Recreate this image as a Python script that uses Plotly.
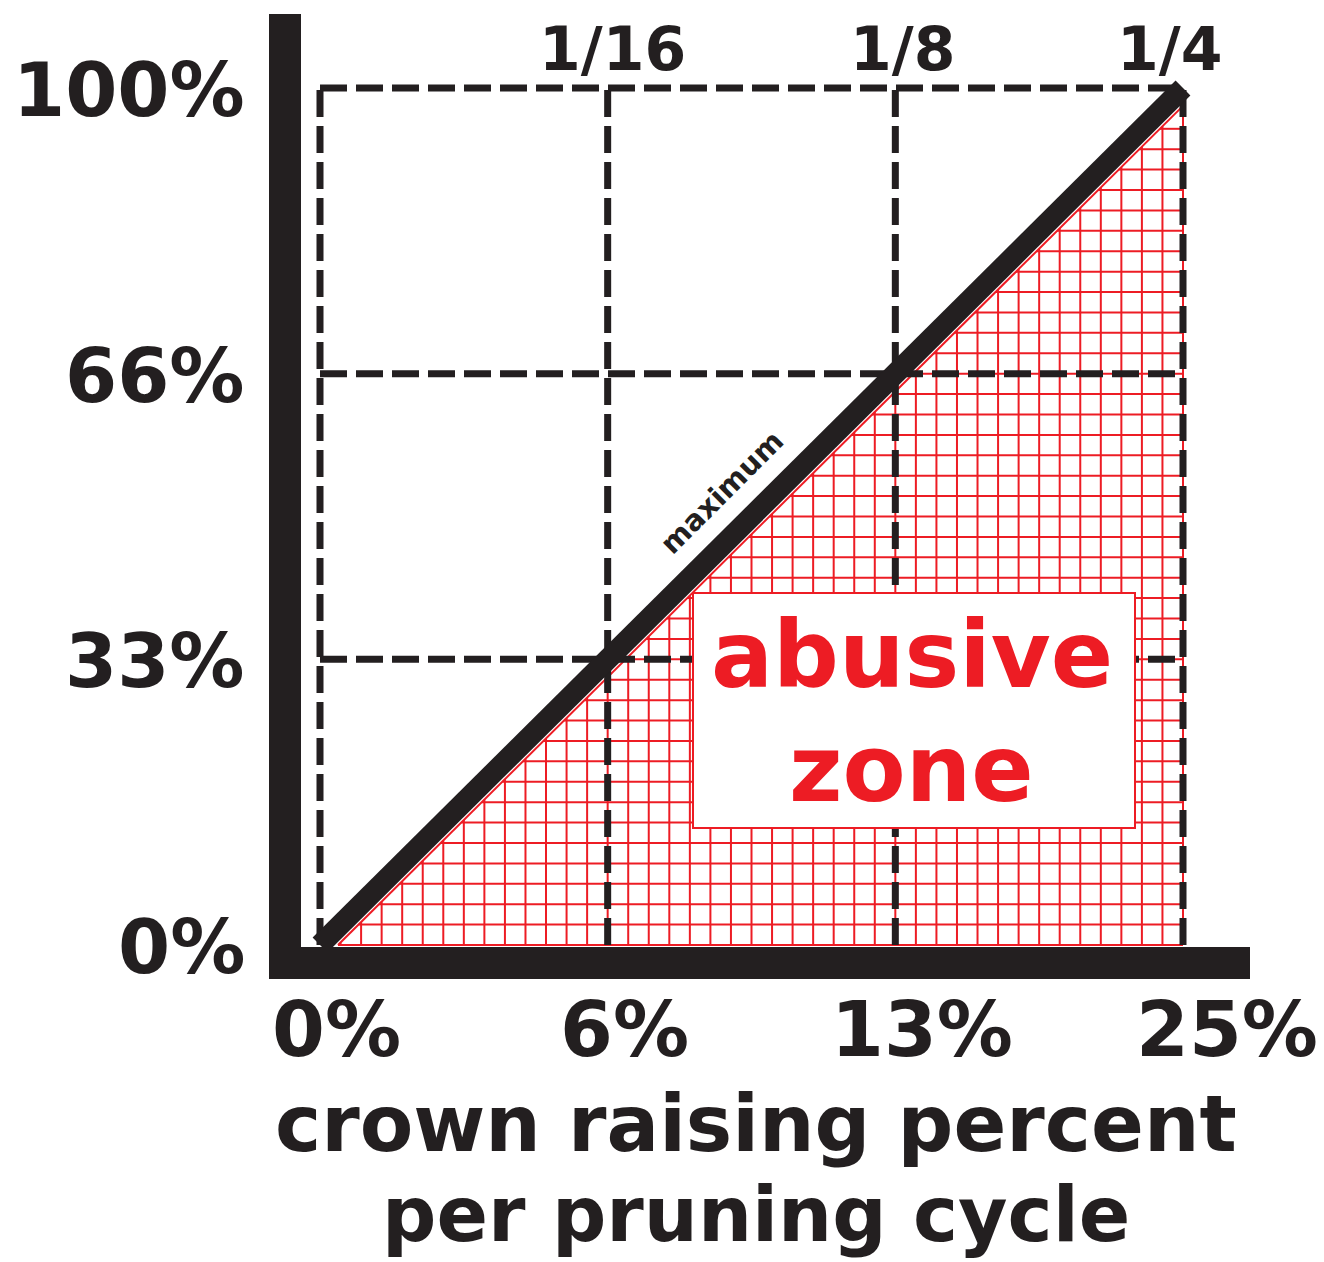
import plotly.graph_objects as go

# ---------------- data ----------------
x_tick_labels = ["0%", "6%", "13%", "25%"]          # crown raising percent
y_tick_labels = ["0%", "33%", "66%", "100%"]        # left axis
cycle_fraction_labels = ["1/16", "1/8", "1/4"]      # top labels (at x positions 1..3)
cycle_fraction_pos = [1, 2, 3]
max_line_x = [0, 1, 2, 3]                           # "maximum" line through the tick intersections
max_line_y = [0, 1, 2, 3]
title_lines = ["crown raising percent", "per pruning cycle"]
zone_lines = ["abusive", "zone"]
max_label = "maximum"

# ---------------- styles ----------------
BLACK = "#231F20"
RED = "#ED1C24"
FONT = "DejaVu Sans"
W, H = 1324, 1262
OFF = 8  # page body margin
# pixel geometry of the grid box: x 320..1183, y 945..88
PX0, PX1, PY0, PY1 = 320.0, 1183.0, 945.0, 88.0
n = len(x_tick_labels) - 1
ux = (PX1 - PX0) / n
uy = (PY0 - PY1) / n
xr = [(OFF - PX0) / ux, n + (W - PX1) / ux]
yr = [-(H - PY0) / uy, n + (PY1 - OFF) / uy]


def px_x(p):
    return (p - PX0) / ux


def px_y(p):
    return (PY0 - p) / uy


fig = go.Figure()

# ---------------- red hatch (abusive zone) ----------------
sub = 14
d = 18 / ux
hx, hy = [], []
for k in range(1, n * sub + 1):
    x = k / sub
    if x - d > 0:
        hx += [x, x, None]
        hy += [0, x - d, None]
for j in range(0, n * sub):
    y = j / sub
    if y + d < n:
        hx += [y + d, n, None]
        hy += [y, y, None]
hx += [d, n, None]
hy += [0, n - d, None]
fig.add_trace(go.Scatter(x=hx, y=hy, mode="lines", line=dict(color=RED, width=2),
                         hoverinfo="skip", cliponaxis=False))

# ---------------- dashed grid ----------------
dash = "27px,9px"
gx, gy = [], []
for i in range(len(x_tick_labels)):
    gx += [i, i, None]
    gy += [0, n, None]
fig.add_trace(go.Scatter(x=gx, y=gy, mode="lines", line=dict(color=BLACK, width=7, dash=dash),
                         hoverinfo="skip", cliponaxis=False))
gx, gy = [], []
for j in range(1, len(y_tick_labels)):
    gx += [0, n, None]
    gy += [j, j, None]
fig.add_trace(go.Scatter(x=gx, y=gy, mode="lines", line=dict(color=BLACK, width=7, dash=dash),
                         hoverinfo="skip", cliponaxis=False))

# ---------------- maximum line ----------------
fig.add_trace(go.Scatter(x=max_line_x, y=max_line_y, mode="lines",
                         line=dict(color=BLACK, width=21), hoverinfo="skip", cliponaxis=False))

# ---------------- shapes: box and thick axes ----------------
fig.add_shape(type="rect", xref="x", yref="y", layer="above",
              x0=px_x(693), x1=px_x(1135), y0=px_y(828), y1=px_y(593),
              fillcolor="white", line=dict(color=RED, width=2))
fig.add_shape(type="line", xref="x", yref="y", layer="above",
              x0=px_x(285), x1=px_x(285), y0=px_y(14), y1=px_y(979),
              line=dict(color=BLACK, width=32))
fig.add_shape(type="line", xref="x", yref="y", layer="above",
              x0=px_x(269), x1=px_x(1250), y0=px_y(963), y1=px_y(963),
              line=dict(color=BLACK, width=32))

# ---------------- annotations ----------------
def font(size, color=BLACK):
    return dict(family=FONT, size=size, color=color, weight="bold")


for j, lab in enumerate(y_tick_labels):
    fig.add_annotation(x=px_x(247), y=j, text=lab, showarrow=False, xanchor="right",
                       yanchor="middle", yshift=-2, font=font(75))

x_shift = [16, 17, 27, 44]
for i, lab in enumerate(x_tick_labels):
    fig.add_annotation(x=i, y=px_y(1029), text=lab, showarrow=False, xanchor="center",
                       yanchor="middle", xshift=x_shift[i], font=font(76))

top_shift = [5, 7, -14]
for p, lab, s in zip(cycle_fraction_pos, cycle_fraction_labels, top_shift):
    fig.add_annotation(x=p, y=px_y(49), text=lab, showarrow=False, xanchor="center",
                       yanchor="middle", xshift=s, font=font(60))

fig.add_annotation(x=px_x(756), y=px_y(1124), text=title_lines[0], showarrow=False,
                   xanchor="center", yanchor="middle", font=font(78))
fig.add_annotation(x=px_x(756), y=px_y(1214), text=title_lines[1], showarrow=False,
                   xanchor="center", yanchor="middle", borderpad=0, font=font(76))

fig.add_annotation(x=px_x(912), y=px_y(655), text=zone_lines[0], showarrow=False,
                   xanchor="center", yanchor="middle", font=font(92, RED))
fig.add_annotation(x=px_x(911), y=px_y(769), text=zone_lines[1], showarrow=False,
                   xanchor="center", yanchor="middle", font=font(92, RED))

fig.add_annotation(x=px_x(722), y=px_y(492), text=max_label, showarrow=False,
                   xanchor="center", yanchor="middle", textangle=-45, font=font(29))

fig.update_layout(
    width=W - OFF, height=H - OFF, autosize=False,
    margin=dict(l=0, r=0, t=0, b=0, pad=0),
    paper_bgcolor="white", plot_bgcolor="white", showlegend=False,
    xaxis=dict(range=xr, visible=False, fixedrange=True),
    yaxis=dict(range=yr, visible=False, fixedrange=True),
)

fig.write_html("out.html")
